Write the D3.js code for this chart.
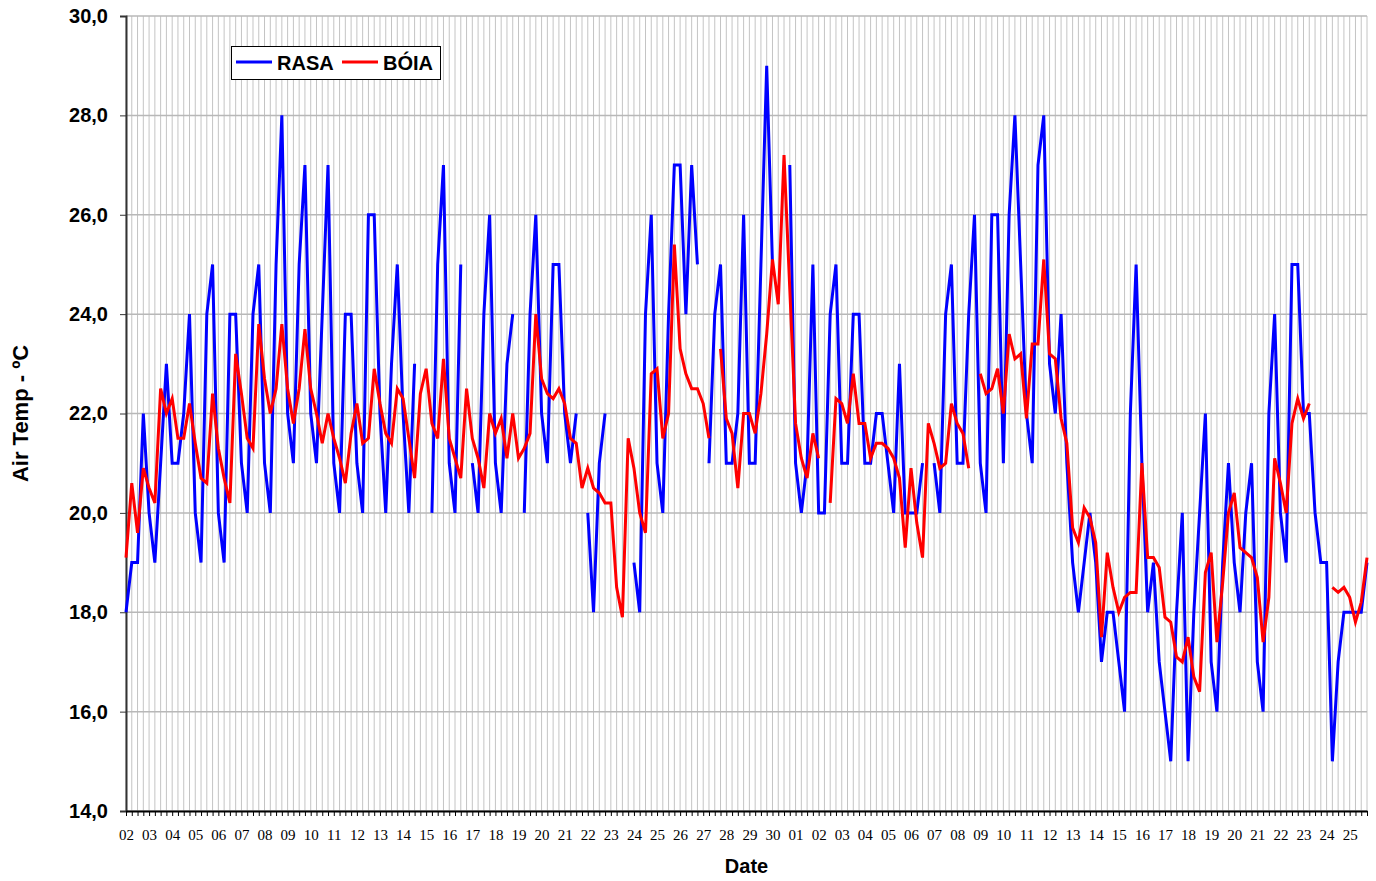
<!DOCTYPE html>
<html>
<head>
<meta charset="utf-8">
<script src="https://cdn.jsdelivr.net/npm/d3@7"></script>
<style>
  body { margin: 0; background: #fff; }
  svg { display: block; }
</style>
</head>
<body>
<svg id="chart" width="1376" height="881"></svg>
<script>
// day labels on the x axis, 4 readings per day
var days = ["02","03","04","05","06","07","08","09","10","11","12","13","14","15","16",
            "17","18","19","20","21","22","23","24","25","26","27","28","29","30",
            "01","02","03","04","05","06","07","08","09","10","11","12","13","14","15",
            "16","17","18","19","20","21","22","23","24","25"];
var readsPerDay = 4;

var yTicks = [14, 16, 18, 20, 22, 24, 26, 28, 30];

var seriesNames = ["RASA", "BÓIA"];

var rasa = [18,19,19,22,20,19,21,23,21,21,22,24,20,19,24,25,20,19,24,24,21,20,24,25,21,20,
  25,28,22,21,25,27,22,21,24,27,21,20,24,24,21,20,26,26,22,20,23,25,22,20,23,null,null,
  20,25,27,21,20,25,null,21,20,24,26,21,20,23,24,null,20,24,26,22,21,25,25,22,21,22,null,
  20,18,21,22,null,null,null,null,19,18,24,26,21,20,24,27,27,24,27,25,null,21,24,25,21,21,
  22,26,21,21,25,29,25,null,null,27,21,20,21,25,20,20,24,25,21,21,24,24,21,21,22,22,21,20,
  23,20,20,20,21,null,21,20,24,25,21,21,24,26,21,20,26,26,21,26,28,25,22,21,27,28,23,22,
  24,21,19,18,19,20,19,17,18,18,17,16,22,25,21,18,19,17,16,15,18,20,15,18,20,22,17,16,19,
  21,19,18,20,21,17,16,22,24,20,19,25,25,22,22,20,19,19,15,17,18,18,18,18,19];

var boia = [19.1,20.6,19.6,20.9,20.5,20.2,22.5,22.0,22.3,21.5,21.5,22.2,21.4,20.7,20.6,22.4,
  21.3,20.7,20.2,23.2,22.4,21.5,21.3,23.8,22.7,22.0,22.5,23.8,22.5,21.8,22.5,23.7,22.5,22.0,
  21.4,22.0,21.5,21.1,20.6,21.6,22.2,21.4,21.5,22.9,22.2,21.6,21.4,22.5,22.3,21.5,20.7,22.4,
  22.9,21.8,21.5,23.1,21.5,21.1,20.7,22.5,21.5,21.1,20.5,22.0,21.6,21.9,21.1,22.0,21.1,21.3,
  21.6,24.0,22.7,22.4,22.3,22.5,22.2,21.5,21.4,20.5,20.9,20.5,20.4,20.2,20.2,18.5,17.9,21.5,
  20.9,20.0,19.6,22.8,22.9,21.5,22.0,25.4,23.3,22.8,22.5,22.5,22.2,21.5,null,23.3,21.9,21.6,
  20.5,22.0,22.0,21.6,22.4,23.6,25.1,24.2,27.2,24.5,21.8,21.1,20.7,21.6,21.1,null,20.2,22.3,
  22.2,21.8,22.8,21.8,21.8,21.1,21.4,21.4,21.3,21.1,20.7,19.3,20.9,19.8,19.1,21.8,21.4,20.9,
  21.0,22.2,21.8,21.6,20.9,null,22.8,22.4,22.5,22.9,22.0,23.6,23.1,23.2,21.9,23.4,23.4,25.1,
  23.2,23.1,21.9,21.4,19.7,19.4,20.1,19.9,19.4,17.5,19.2,18.5,18.0,18.3,18.4,18.4,21.0,19.1,
  19.1,18.9,17.9,17.8,17.1,17.0,17.5,16.7,16.4,18.8,19.2,17.4,18.6,20.0,20.4,19.3,19.2,19.1,
  18.7,17.4,18.3,21.1,20.6,20.0,21.8,22.3,21.9,22.2,null,null,null,18.5,18.4,18.5,18.3,17.8,
  18.2,19.1];

var colors = ["#0000ff", "#ff0000"];

var plotLeft = 126, plotRight = 1367, plotTop = 16, plotBottom = 811;

var svg = d3.select("#chart");

var idx = d3.range(days.length * readsPerDay);

var xScale = d3.scalePoint()
    .domain(idx)
    .range([plotLeft, plotRight]);

var yScale = d3.scaleLinear()
    .domain([14, 30])
    .range([plotBottom, plotTop]);

// vertical grid, one line per reading
svg.append("g")
    .selectAll("line")
    .data(idx)
    .enter().append("line")
    .attr("x1", function(d) { return xScale(d); })
    .attr("x2", function(d) { return xScale(d); })
    .attr("y1", plotTop)
    .attr("y2", plotBottom)
    .attr("stroke", "#c4c4c4")
    .attr("stroke-width", 1);

// horizontal grid
svg.append("g")
    .selectAll("line")
    .data(yTicks)
    .enter().append("line")
    .attr("x1", plotLeft)
    .attr("x2", plotRight)
    .attr("y1", function(d) { return yScale(d); })
    .attr("y2", function(d) { return yScale(d); })
    .attr("stroke", "#b8b8b8")
    .attr("stroke-width", 1.5);

var fmt = function(d) { return d3.format(".1f")(d).replace(".", ","); };

var yAxis = d3.axisLeft(yScale)
    .tickValues(yTicks)
    .tickFormat(fmt)
    .tickSize(6)
    .tickPadding(12);

var gy = svg.append("g")
    .attr("transform", "translate(" + plotLeft + ",0)")
    .call(yAxis);
gy.select(".domain").attr("stroke", "#333").attr("stroke-width", 2);
gy.selectAll(".tick line").attr("stroke", "#333");
gy.selectAll("text")
    .attr("font-family", "Liberation Sans, Arial, sans-serif")
    .attr("font-weight", "bold")
    .attr("font-size", "20px")
    .attr("fill", "#000");

var xAxis = d3.axisBottom(xScale)
    .tickFormat(function(d) { return d % readsPerDay === 0 ? days[d / readsPerDay] : ""; })
    .tickSize(5)
    .tickSizeOuter(0)
    .tickPadding(13);

var gx = svg.append("g")
    .attr("transform", "translate(0," + plotBottom + ")")
    .call(xAxis);
gx.select(".domain").attr("stroke", "#000").attr("stroke-width", 2);
gx.selectAll(".tick line").attr("stroke", "#000");
gx.selectAll("text")
    .attr("font-family", "Liberation Serif, Times New Roman, serif")
    .attr("font-size", "15px")
    .attr("fill", "#000");

// series lines
var line = d3.line()
    .defined(function(d) { return d != null; })
    .x(function(d, i) { return xScale(i); })
    .y(function(d) { return yScale(d); });

[rasa, boia].forEach(function(s, k) {
    svg.append("path")
        .datum(s)
        .attr("fill", "none")
        .attr("stroke", colors[k])
        .attr("stroke-width", 3)
        .attr("stroke-linejoin", "miter")
        .attr("d", line);
});

// axis titles
svg.append("text")
    .attr("transform", "translate(28," + ((plotTop + plotBottom) / 2) + ") rotate(-90)")
    .attr("text-anchor", "middle")
    .attr("font-family", "Liberation Sans, Arial, sans-serif")
    .attr("font-weight", "bold")
    .attr("font-size", "22px")
    .text("Air Temp - ºC");

svg.append("text")
    .attr("x", (plotLeft + plotRight) / 2)
    .attr("y", 873)
    .attr("text-anchor", "middle")
    .attr("font-family", "Liberation Sans, Arial, sans-serif")
    .attr("font-weight", "bold")
    .attr("font-size", "20px")
    .text("Date");

// legend
var legend = svg.append("g");
legend.append("rect")
    .attr("x", 231.5)
    .attr("y", 46.5)
    .attr("width", 209)
    .attr("height", 33)
    .attr("fill", "#fff")
    .attr("stroke", "#000")
    .attr("stroke-width", 1);

var legX = [236, 342];
seriesNames.forEach(function(name, k) {
    legend.append("line")
        .attr("x1", legX[k])
        .attr("x2", legX[k] + 36)
        .attr("y1", 62)
        .attr("y2", 62)
        .attr("stroke", colors[k])
        .attr("stroke-width", 3);
    legend.append("text")
        .attr("x", legX[k] + 41)
        .attr("y", 70)
        .attr("font-family", "Liberation Sans, Arial, sans-serif")
        .attr("font-weight", "bold")
        .attr("font-size", "20px")
        .text(name);
});
</script>
</body>
</html>
